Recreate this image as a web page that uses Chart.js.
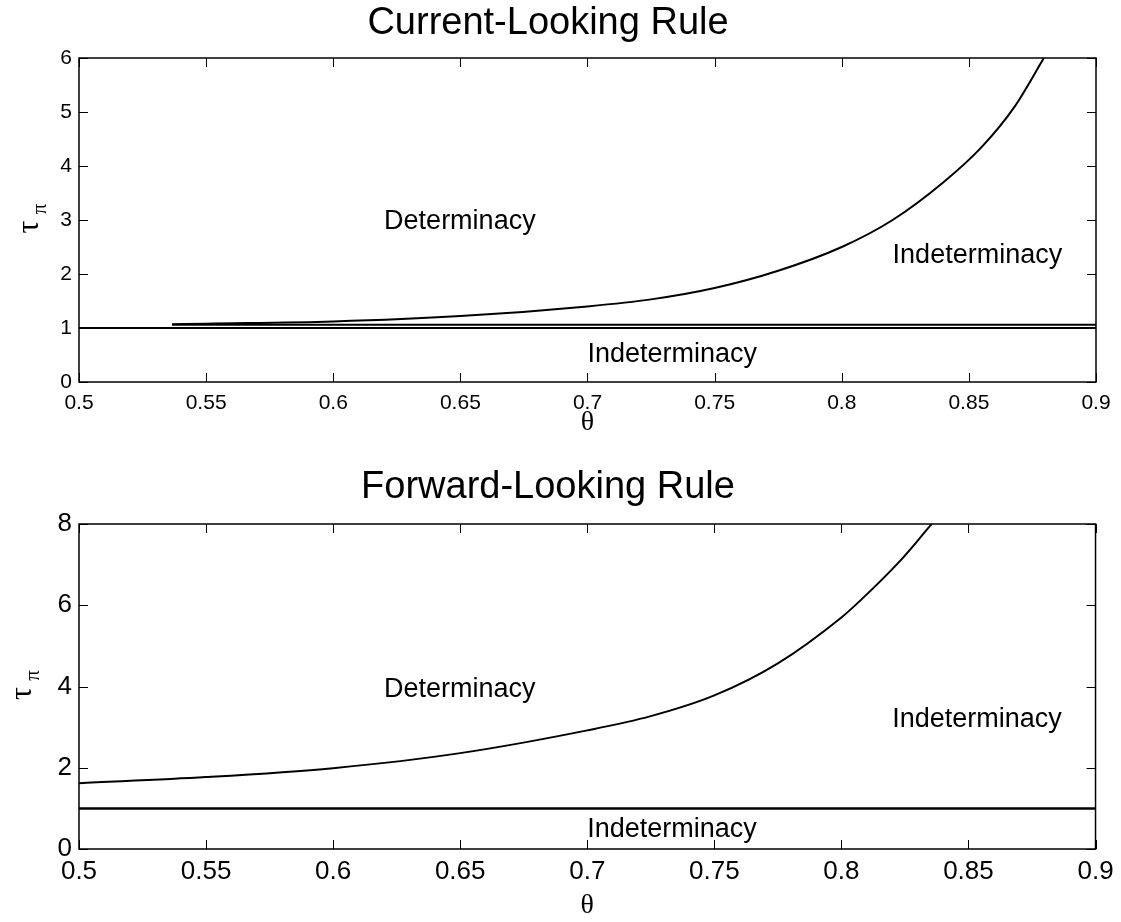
<!DOCTYPE html>
<html>
<head>
<meta charset="utf-8">
<script src="https://cdn.jsdelivr.net/npm/chart.js@4/dist/chart.umd.min.js"></script>
<style>
  body { margin: 0; background: #fff; }
  #topBox { position: absolute; left: 0; top: 0; width: 1121px; height: 440px; }
  #botBox { position: absolute; left: 0; top: 440px; width: 1121px; height: 482px; }
</style>
</head>
<body>
<div id="topBox"><canvas id="topChart"></canvas></div>
<div id="botBox"><canvas id="botChart"></canvas></div>
<script>
// Current-looking rule: boundary curve (upper branch), lower branch, tau = 1 line
const curTheta = [0.5366, 0.55, 0.6, 0.65, 0.7, 0.725, 0.75, 0.775, 0.8, 0.82, 0.84, 0.855, 0.868, 0.8795];
const curTau = [1.07, 1.08, 1.12, 1.22, 1.40, 1.53, 1.74, 2.06, 2.5, 3.0, 3.7, 4.35, 5.1, 6.0];
const curLowTheta = [0.5366, 0.9];
const curLowTau = [1.06, 1.06];
const oneTheta = [0.5, 0.9];
const oneTau = [1, 1];

// Forward-looking rule: boundary curve
const fwdTheta = [0.5, 0.55, 0.6, 0.65, 0.7, 0.725, 0.75, 0.775, 0.8, 0.8075, 0.8232, 0.8311, 0.8355];
const fwdTau = [1.62, 1.77, 1.99, 2.36, 2.92, 3.27, 3.78, 4.57, 5.7, 6.12, 7.1, 7.67, 8.0];

const xTicks = [0.5, 0.55, 0.6, 0.65, 0.7, 0.75, 0.8, 0.85, 0.9];
const topYTicks = [0, 1, 2, 3, 4, 5, 6];
const botYTicks = [0, 2, 4, 6, 8];

// region labels [text, theta, tau]
const topNotes = [['Determinacy', 0.62, 2.98], ['Indeterminacy', 0.82, 2.35], ['Indeterminacy', 0.7, 0.5]];
const botNotes = [['Determinacy', 0.62, 3.93], ['Indeterminacy', 0.82, 3.19], ['Indeterminacy', 0.7, 0.47]];

const SANS = '"Liberation Sans", Arial, sans-serif';
const SERIF = '"Liberation Serif", "DejaVu Serif", serif';

const toPts = (xs, ys) => xs.map((x, i) => ({ x, y: ys[i] }));

const lineSet = (xs, ys, width) => ({
    data: toPts(xs, ys),
    borderColor: '#000',
    borderWidth: width,
    pointRadius: 0,
    fill: false,
    cubicInterpolationMode: 'monotone'
});

// box around plot + inward tick marks on all four sides, region notes, tau_pi label
const framePlugin = {
    id: 'frame',
    afterDraw(chart, args, opts) {
        const { ctx, chartArea: a, scales } = chart;
        const tl = 9;
        ctx.save();
        ctx.strokeStyle = '#000';
        ctx.lineWidth = 1.5;
        ctx.strokeRect(a.left, a.top, a.right - a.left, a.bottom - a.top);
        ctx.lineWidth = 1;
        scales.x.ticks.forEach(t => {
            const px = Math.round(scales.x.getPixelForValue(t.value)) + 0.5;
            ctx.beginPath();
            ctx.moveTo(px, a.bottom); ctx.lineTo(px, a.bottom - tl);
            ctx.moveTo(px, a.top); ctx.lineTo(px, a.top + tl);
            ctx.stroke();
        });
        scales.y.ticks.forEach(t => {
            const py = Math.round(scales.y.getPixelForValue(t.value)) + 0.5;
            ctx.beginPath();
            ctx.moveTo(a.left, py); ctx.lineTo(a.left + tl, py);
            ctx.moveTo(a.right, py); ctx.lineTo(a.right - tl, py);
            ctx.stroke();
        });
        ctx.fillStyle = '#000';
        ctx.font = '27px ' + SANS;
        ctx.textAlign = 'left';
        ctx.textBaseline = 'middle';
        opts.notes.forEach(([txt, x, y]) => {
            ctx.fillText(txt, scales.x.getPixelForValue(x), scales.y.getPixelForValue(y));
        });
        // y axis label: tau with subscript pi
        const cy = (a.top + a.bottom) / 2;
        ctx.translate(opts.labelX, cy);
        ctx.rotate(-Math.PI / 2);
        ctx.textAlign = 'center';
        ctx.textBaseline = 'middle';
        ctx.font = '32px ' + SERIF;
        ctx.fillText('τ', -7, 0);
        ctx.font = '21px ' + SERIF;
        ctx.fillText('π', 11, 10);
        ctx.restore();
    }
};

const makeChart = (id, cfg) => new Chart(document.getElementById(id), {
    type: 'line',
    data: { datasets: cfg.sets },
    options: {
        responsive: true,
        maintainAspectRatio: false,
        animation: false,
        layout: { padding: { left: 0, right: 25, top: 0, bottom: 0 } },
        plugins: {
            legend: { display: false },
            tooltip: { enabled: false },
            title: {
                display: true,
                text: cfg.title,
                color: '#000',
                font: { family: SANS, size: 38, weight: 'normal' },
                padding: cfg.titlePad
            },
            frame: { notes: cfg.notes, labelX: cfg.labelX }
        },
        scales: {
            x: {
                type: 'linear',
                min: 0.5,
                max: 0.9,
                afterBuildTicks: s => { s.ticks = xTicks.map(v => ({ value: v })); },
                afterFit: s => { s.height = cfg.xHeight; },
                grid: { display: false, drawTicks: false },
                border: { display: false },
                ticks: {
                    color: '#000',
                    padding: cfg.xTickPad,
                    maxRotation: 0,
                    autoSkip: false,
                    font: { family: SANS, size: cfg.tickSize },
                    callback: v => String(+v.toFixed(2))
                },
                title: {
                    display: true,
                    text: 'θ',
                    color: '#000',
                    font: { family: SERIF, size: 28 },
                    padding: { top: 0, bottom: cfg.thetaPad }
                }
            },
            y: {
                type: 'linear',
                min: 0,
                max: cfg.yMax,
                afterBuildTicks: s => { s.ticks = cfg.yTicks.map(v => ({ value: v })); },
                afterFit: s => { s.width = 79; },
                grid: { display: false, drawTicks: false },
                border: { display: false },
                ticks: {
                    color: '#000',
                    padding: 7,
                    autoSkip: false,
                    font: { family: SANS, size: cfg.tickSize }
                }
            }
        }
    },
    plugins: [framePlugin]
});

makeChart('topChart', {
    title: 'Current-Looking Rule',
    titlePad: { top: 1.2, bottom: 11.2 },
    sets: [
        lineSet(curTheta, curTau, 2),
        lineSet(curLowTheta, curLowTau, 2.2),
        lineSet(oneTheta, oneTau, 2)
    ],
    notes: topNotes,
    labelX: 30,
    yMax: 6,
    yTicks: topYTicks,
    tickSize: 21,
    xHeight: 58,
    xTickPad: 8.4,
    thetaPad: 1
});

makeChart('botChart', {
    title: 'Forward-Looking Rule',
    titlePad: { top: 25.2, bottom: 13.2 },
    sets: [
        lineSet(fwdTheta, fwdTau, 2),
        lineSet(oneTheta, oneTau, 2.5)
    ],
    notes: botNotes,
    labelX: 23,
    yMax: 8,
    yTicks: botYTicks,
    tickSize: 26,
    xHeight: 73,
    xTickPad: 7.4,
    thetaPad: 0
});
</script>
</body>
</html>
